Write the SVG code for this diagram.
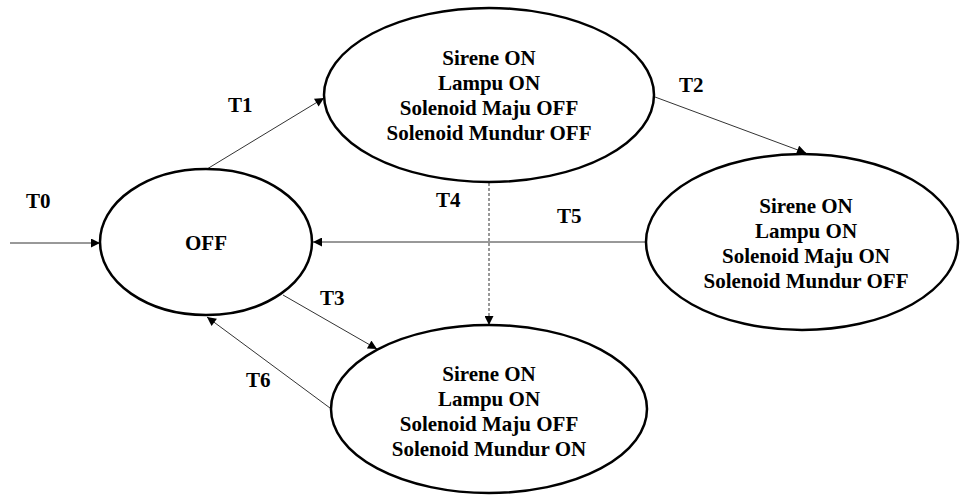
<svg xmlns="http://www.w3.org/2000/svg" width="960" height="495" viewBox="0 0 960 495">
<defs>
<marker id="arr" viewBox="0 0 10 10" refX="10" refY="5" markerWidth="10" markerHeight="9" markerUnits="userSpaceOnUse" orient="auto">
<path d="M0,0 L10,5 L0,10 Z" fill="#000"/>
</marker>
<style>
.st{fill:#fff;stroke:#000;stroke-width:2.5}
.t{font-family:"Liberation Serif","Times New Roman",serif;font-weight:bold;font-size:21px;fill:#000;text-anchor:middle}
.lb{font-family:"Liberation Serif","Times New Roman",serif;font-weight:bold;font-size:21px;fill:#000}
.c{fill:none;stroke:#333;stroke-width:1;marker-end:url(#arr)}
.d{stroke-dasharray:3,2}
</style>
</defs>
<rect width="960" height="495" fill="#fff"/>
<g id="connectors">
<line class="c" x1="10" y1="243" x2="100" y2="243"/>
<line class="c" x1="207" y1="169" x2="324" y2="98"/>
<line class="c" x1="655" y1="97" x2="806" y2="153"/>
<line class="c d" x1="489" y1="183" x2="489" y2="325"/>
<line class="c" x1="646" y1="242" x2="313" y2="242"/>
<line class="c" x1="283" y1="295" x2="377" y2="349"/>
<line class="c" x1="330" y1="408" x2="207" y2="317"/>
</g>
<g id="labels">
<text class="lb" x="26" y="208">T0</text>
<text class="lb" x="228" y="112">T1</text>
<text class="lb" x="679" y="92">T2</text>
<text class="lb" x="320" y="305">T3</text>
<text class="lb" x="436" y="207">T4</text>
<text class="lb" x="557" y="223">T5</text>
<text class="lb" x="246" y="387">T6</text>
</g>
<g id="off">
<ellipse class="st" cx="206" cy="242" rx="106" ry="73"/>
<text class="t" x="206" y="250">OFF</text>
</g>
<g id="s1">
<ellipse class="st" cx="489" cy="95" rx="165" ry="87"/>
<text class="t" x="489" y="65">Sirene ON</text>
<text class="t" x="489" y="90">Lampu ON</text>
<text class="t" x="489" y="115">Solenoid Maju OFF</text>
<text class="t" x="489" y="140">Solenoid Mundur OFF</text>
</g>
<g id="s2">
<ellipse class="st" cx="802" cy="242" rx="156" ry="88"/>
<text class="t" x="806" y="213">Sirene ON</text>
<text class="t" x="806" y="238">Lampu ON</text>
<text class="t" x="806" y="263">Solenoid Maju ON</text>
<text class="t" x="806" y="288">Solenoid Mundur OFF</text>
</g>
<g id="s3">
<ellipse class="st" cx="489" cy="409" rx="158" ry="84"/>
<text class="t" x="489" y="381">Sirene ON</text>
<text class="t" x="489" y="406">Lampu ON</text>
<text class="t" x="489" y="431">Solenoid Maju OFF</text>
<text class="t" x="489" y="456">Solenoid Mundur ON</text>
</g>
</svg>
